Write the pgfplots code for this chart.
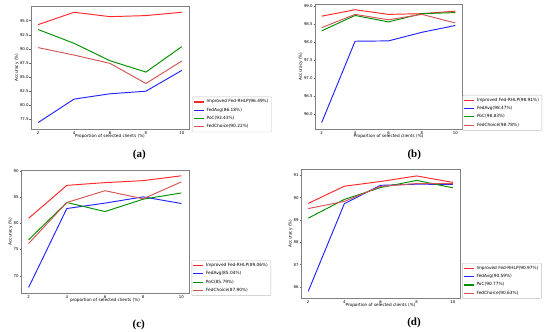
\documentclass[border=0pt]{standalone}
\usepackage{pgfplots}
\pgfplotsset{compat=1.18}
\usepackage{fontspec}
\setmainfont{DejaVu Sans}
\newfontfamily\capfont{Liberation Serif}
\definecolor{cImp}{RGB}{255,40,40}
\definecolor{cAvg}{RGB}{35,35,255}
\definecolor{cPoC}{RGB}{0,145,0}
\definecolor{cFC}{RGB}{212,85,85}
\pgfplotsset{
  panel/.style={
    scale only axis,
    xmin=1.6, xmax=10.4, xtick={2,4,6,8,10},
    axis line style={black!50, line width=0.5pt},
    tick style={black!60, line width=0.4pt},
    tick align=outside, major tick length=1.5pt,
    xtick pos=bottom, ytick pos=left,
    tick label style={font=\fontsize{3.9}{4.4}\selectfont},
    label style={font=\fontsize{4.2}{5}\selectfont},
    /pgf/number format/assume math mode=true,
    xticklabel style={inner sep=0.6pt},
    yticklabel style={inner sep=0.6pt},
    xlabel style={inner sep=0.5pt, yshift=0.8pt},
    ylabel style={inner sep=0.5pt},
    legend style={anchor=north west, font=\fontsize{4.3}{5}\selectfont,
      draw=black!25, rounded corners=0.6pt, inner xsep=1pt, inner ysep=0.8pt,
      row sep=-0.5pt, cells={anchor=west}},
    legend image code/.code={\draw[#1, line width=1.1pt] (0pt,0pt) -- (10pt,0pt);},
    every axis plot/.append style={line width=0.95pt, no markers},
  }
}
\begin{document}
\begin{tikzpicture}
\useasboundingbox (0pt,0pt) rectangle (550pt,332pt);
% (a)
\begin{axis}[panel, at={(31pt,203pt)}, anchor=south west, width=158pt, height=123pt,
  ymin=75.8, ymax=97.6, ytick={77.5,80,82.5,85,87.5,90,92.5,95},
  yticklabel style={/pgf/number format/.cd, fixed, fixed zerofill, precision=1},
  xlabel={Proportion of selected clients (\%)}, ylabel={Accuracy (\%)},
  legend style={at={(1.021,0.263)}}]
\addplot[cImp] coordinates {(2,94.30)(4,96.49)(6,95.71)(8,95.90)(10,96.49)};
\addplot[cAvg] coordinates {(2,76.95)(4,81.10)(6,82.04)(8,82.50)(10,86.18)};
\addplot[cPoC] coordinates {(2,93.43)(4,90.98)(6,87.90)(8,85.89)(10,90.40)};
\addplot[cFC] coordinates {(2,90.22)(4,88.90)(6,87.43)(8,83.87)(10,87.84)};
\legend{Improved Fed-RHLP(96.49\%),FedAvg(86.18\%),PoC(93.43\%),FedChoice(90.22\%)}
\end{axis}
% (b)
\begin{axis}[panel, at={(315pt,203pt)}, anchor=south west, width=147pt, height=125pt,
  ymin=95.58, ymax=99.07, ytick={96,96.5,97,97.5,98,98.5,99},
  yticklabel style={/pgf/number format/.cd, fixed, fixed zerofill, precision=1},
  xlabel={Proportion of selected clients (\%)}, ylabel={Accuracy (\%)},
  legend style={at={(1.005,0.272)}}]
\addplot[cImp] coordinates {(2,98.73)(4,98.91)(6,98.78)(8,98.80)(10,98.87)};
\addplot[cAvg] coordinates {(2,95.76)(4,98.03)(6,98.04)(8,98.28)(10,98.47)};
\addplot[cPoC] coordinates {(2,98.32)(4,98.75)(6,98.57)(8,98.80)(10,98.83)};
\addplot[cFC] coordinates {(2,98.41)(4,98.78)(6,98.63)(8,98.78)(10,98.54)};
\legend{Improved Fed-RHLP(98.91\%),FedAvg(98.47\%),PoC(98.83\%),FedChoice(98.78\%)}
\end{axis}
% (c)
\begin{axis}[panel, at={(21pt,39pt)}, anchor=south west, width=168pt, height=123pt,
  ymin=66.7, ymax=90.17, ytick={70,75,80,85,90},
  xlabel={proportion of selected clients (\%)}, ylabel={Accuracy (\%)},
  legend style={at={(1.016,0.266)}}]
\addplot[cImp] coordinates {(2,80.96)(4,87.24)(6,87.76)(8,88.14)(10,89.06)};
\addplot[cAvg] coordinates {(2,67.76)(4,82.82)(6,83.85)(8,85.04)(10,83.78)};
\addplot[cPoC] coordinates {(2,76.86)(4,83.97)(6,82.24)(8,84.60)(10,85.79)};
\addplot[cFC] coordinates {(2,76.15)(4,83.97)(6,86.22)(8,84.68)(10,87.90)};
\legend{Improved Fed-RHLP(89.06\%),FedAvg(85.04\%),PoC(85.79\%),FedChoice(87.90\%)}
\end{axis}
% (d)
\begin{axis}[panel, at={(301pt,34pt)}, anchor=south west, width=159pt, height=129pt,
  ymin=85.51, ymax=91.28, ytick={86,87,88,89,90,91},
  xlabel={Proportion of selected clients (\%)}, ylabel={Accuracy (\%)},
  legend style={at={(1.014,0.271)}}]
\addplot[cImp] coordinates {(2,89.74)(4,90.51)(6,90.72)(8,90.97)(10,90.68)};
\addplot[cAvg] coordinates {(2,85.81)(4,89.73)(6,90.55)(8,90.60)(10,90.59)};
\addplot[cPoC] coordinates {(2,89.08)(4,89.92)(6,90.45)(8,90.77)(10,90.44)};
\addplot[cFC] coordinates {(2,89.51)(4,89.83)(6,90.50)(8,90.63)(10,90.63)};
\legend{Improved Fed-RHLP(90.97\%),FedAvg(90.59\%),PoC(90.77\%),FedChoice(90.63\%)}
\end{axis}
\node[font=\capfont\bfseries\fontsize{11}{12}\selectfont] at (139.3pt,176.7pt) {(a)};
\node[font=\capfont\bfseries\fontsize{11}{12}\selectfont] at (414.3pt,176.7pt) {(b)};
\node[font=\capfont\bfseries\fontsize{11}{12}\selectfont] at (138.7pt,6.7pt) {(c)};
\node[font=\capfont\bfseries\fontsize{11}{12}\selectfont] at (414pt,8.7pt) {(d)};
\end{tikzpicture}
\end{document}
